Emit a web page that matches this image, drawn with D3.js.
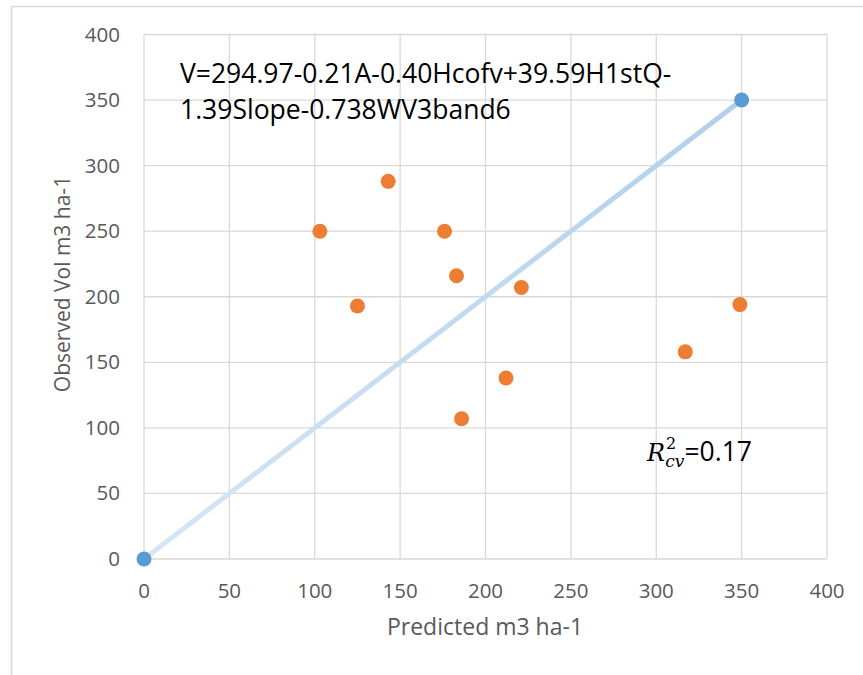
<!DOCTYPE html>
<html>
<head>
<meta charset="utf-8">
<script src="https://cdn.jsdelivr.net/npm/d3@7"></script>
<style>
  body { margin: 0; background: #fff; }
  text { font-family: "Open Sans", "Noto Sans", sans-serif; }
</style>
</head>
<body>
<script>
const predicted = [103, 143, 176, 125, 183, 221, 212, 186, 317, 349]
const observed = [250, 288, 250, 193, 216, 207, 138, 107, 158, 194]
const lineX = [0, 350]
const lineY = [0, 350]
const ticks = [0, 50, 100, 150, 200, 250, 300, 350, 400]
const eqLines = ['V=294.97-0.21A-0.40Hcofv+39.59H1stQ-', '1.39Slope-0.738WV3band6']

function drawChart() {
    var svg = d3.select('body')
        .append('svg')
        .attr('width', 863)
        .attr('height', 675)

    svg.append('rect')
        .attr('x', 11.5).attr('y', 6.5)
        .attr('width', 870).attr('height', 700)
        .attr('fill', 'none')
        .attr('stroke', '#d9d9d9')
        .attr('stroke-width', 1.5)

    var x = d3.scaleLinear().domain([0, 400]).range([144, 827])
    var y = d3.scaleLinear().domain([0, 400]).range([559, 34.5])

    // grid
    svg.selectAll('.vgrid').data(ticks).enter().append('line')
        .attr('x1', d => x(d)).attr('x2', d => x(d))
        .attr('y1', y(0)).attr('y2', y(400))
        .attr('stroke', '#d9d9d9').attr('stroke-width', 1.3)
    svg.selectAll('.hgrid').data(ticks).enter().append('line')
        .attr('x1', x(0)).attr('x2', x(400))
        .attr('y1', d => y(d)).attr('y2', d => y(d))
        .attr('stroke', '#d9d9d9').attr('stroke-width', 1.3)

    // tick labels
    svg.selectAll('.xt').data(ticks).enter().append('text')
        .attr('x', d => x(d)).attr('y', 598)
        .attr('text-anchor', 'middle')
        .attr('font-size', 20.5).attr('fill', '#595959')
        .text(d => d)
    svg.selectAll('.yt').data(ticks).enter().append('text')
        .attr('x', 120).attr('y', d => y(d) + 7)
        .attr('text-anchor', 'end')
        .attr('font-size', 20.5).attr('fill', '#595959')
        .text(d => d)

    // axis titles
    svg.append('text')
        .attr('x', 485).attr('y', 635)
        .attr('text-anchor', 'middle')
        .attr('font-size', 23).attr('fill', '#595959')
        .text('Predicted m3 ha-1')
    svg.append('text')
        .attr('transform', 'translate(70,284) rotate(-90)')
        .attr('text-anchor', 'middle')
        .attr('font-size', 21).attr('fill', '#595959')
        .text('Observed Vol m3 ha-1')

    // 1:1 line with gradient
    var grad = svg.append('defs').append('linearGradient')
        .attr('id', 'lg')
        .attr('gradientUnits', 'userSpaceOnUse')
        .attr('x1', x(0)).attr('y1', y(0))
        .attr('x2', x(350)).attr('y2', y(350))
    grad.append('stop').attr('offset', '0%').attr('stop-color', '#d6e6f5')
    grad.append('stop').attr('offset', '100%').attr('stop-color', '#b0cfec')

    svg.append('line')
        .attr('x1', x(lineX[0])).attr('y1', y(lineY[0]))
        .attr('x2', x(lineX[1])).attr('y2', y(lineY[1]))
        .attr('stroke', 'url(#lg)').attr('stroke-width', 5)

    svg.selectAll('.bp').data(lineX).enter().append('circle')
        .attr('cx', d => x(d)).attr('cy', (d, i) => y(lineY[i]))
        .attr('r', 7.5).attr('fill', '#5b9bd5')

    svg.selectAll('.op').data(predicted).enter().append('circle')
        .attr('cx', d => x(d)).attr('cy', (d, i) => y(observed[i]))
        .attr('r', 7.5).attr('fill', '#ed7d31')

    // equation
    eqLines.forEach(function(t, i) {
        svg.append('text')
            .attr('x', 180).attr('y', 83 + i * 36)
            .attr('font-size', 26.5).attr('fill', '#000')
            .text(t)
    })

    // R2 label
    var r = svg.append('text')
        .attr('x', 647).attr('y', 461)
        .attr('font-size', 26.5).attr('fill', '#000')
    r.append('tspan').attr('font-family', 'DejaVu Serif').attr('font-style', 'italic').attr('font-size', 24).text('R')
    r.append('tspan').attr('font-family', 'DejaVu Serif').attr('font-size', 16).attr('dx', 1).attr('dy', -12).text('2')
    r.append('tspan').attr('font-family', 'DejaVu Serif').attr('font-style', 'italic').attr('font-size', 17).attr('dx', -11).attr('dy', 18).text('cv')
    r.append('tspan').attr('dy', -6).text('=0.17')
}

drawChart()
</script>
</body>
</html>
